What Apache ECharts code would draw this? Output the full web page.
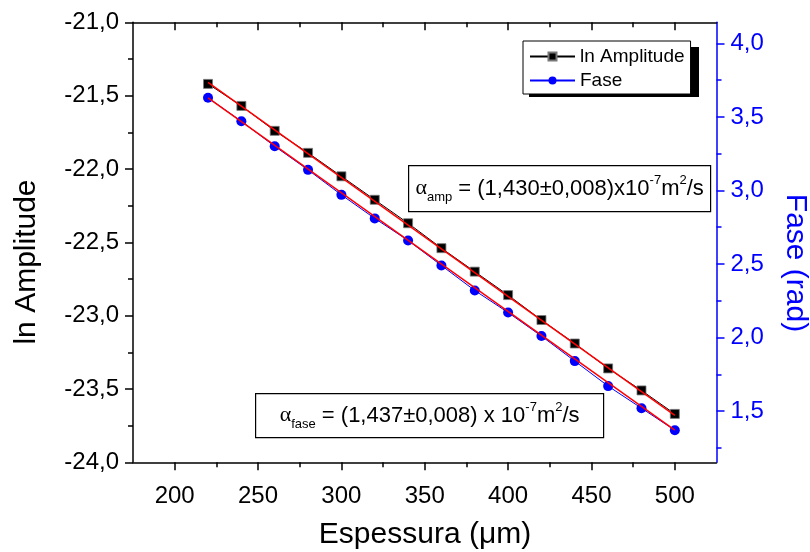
<!DOCTYPE html>
<html>
<head>
<meta charset="utf-8">
<script src="https://cdn.jsdelivr.net/npm/echarts@6/dist/echarts.min.js"></script>
<style>
html,body{margin:0;padding:0;background:#fff;}
#chart{width:810px;height:552px;}
</style>
</head>
<body>
<div id="chart"></div>
<script>
// ---- data ----
const espessura = [220, 240, 260, 280, 300, 320, 340, 360, 380, 400, 420, 440, 460, 480, 500];
const lnAmplitude = [-21.42, -21.57, -21.74, -21.89, -22.05, -22.21, -22.37, -22.54, -22.70, -22.86, -23.03, -23.19, -23.36, -23.51, -23.67];
const fase = [3.63, 3.47, 3.30, 3.14, 2.97, 2.81, 2.66, 2.49, 2.32, 2.17, 2.01, 1.84, 1.67, 1.52, 1.37];
const fitX = [220, 500];
const ampFit = [-21.41, -23.68];
const faseFit = [3.63, 1.37];
const xTickLabels = [200, 250, 300, 350, 400, 450, 500];
const xMinorTicks = [225, 275, 325, 375, 425, 475];
const rightTickLabels = [1.5, 2.0, 2.5, 3.0, 3.5, 4.0];
const rightMinorTicks = [1.25, 1.75, 2.25, 2.75, 3.25, 3.75];
const titles = {x: 'Espessura (μm)', yLeft: 'ln Amplitude', yRight: 'Fase (rad)'};

const FONT = 'Liberation Sans';
const BLUE = '#0000ff';
const comma = v => (Math.round(v * 10) / 10).toFixed(1).replace('.', ',');

const chart = echarts.init(document.getElementById('chart'), null, {renderer: 'canvas'});

const xBase = {type: 'value', min: 175, max: 525, splitLine: {show: false}, gridIndex: 0};
const TICK_FS = 24;

const richAlpha = {
  a: {fontFamily: 'Liberation Serif', fontSize: 22, lineHeight: 30, fill: '#000'},
  t: {fontFamily: FONT, fontSize: 22, lineHeight: 30, fill: '#000'},
  sub: {fontFamily: FONT, fontSize: 13, lineHeight: 14, verticalAlign: 'bottom', fill: '#000'},
  sup: {fontFamily: FONT, fontSize: 13, lineHeight: 14, verticalAlign: 'top', fill: '#000'}
};

const option = {
  animation: false,
  backgroundColor: '#fff',
  textStyle: {fontFamily: FONT},
  grid: {left: 133, right: 93.5, top: 22.3, bottom: 89.7, containLabel: false},
  xAxis: [
    Object.assign({}, xBase, {
      position: 'bottom',
      axisLine: {show: true, onZero: false, lineStyle: {color: '#000', width: 1.5}},
      axisTick: {show: true, inside: false, length: 8, customValues: xTickLabels, lineStyle: {color: '#000', width: 1.5}},
      axisLabel: {show: true, customValues: xTickLabels, margin: 22, fontFamily: FONT, fontSize: TICK_FS, color: '#000'}
    }),
    Object.assign({}, xBase, {
      position: 'bottom',
      axisLine: {show: false, onZero: false},
      axisTick: {show: true, inside: false, length: 5, customValues: xMinorTicks, lineStyle: {color: '#000', width: 1.5}},
      axisLabel: {show: false}
    }),
    Object.assign({}, xBase, {
      position: 'top',
      axisLine: {show: true, onZero: false, lineStyle: {color: '#000', width: 1.5}},
      axisTick: {show: true, inside: true, length: 8, customValues: xTickLabels, lineStyle: {color: '#000', width: 1.5}},
      axisLabel: {show: false}
    }),
    Object.assign({}, xBase, {
      position: 'top',
      axisLine: {show: false, onZero: false},
      axisTick: {show: true, inside: true, length: 5, customValues: xMinorTicks, lineStyle: {color: '#000', width: 1.5}},
      axisLabel: {show: false}
    })
  ],
  yAxis: [
    {
      type: 'value', position: 'left', min: -24, max: -21, interval: 0.5,
      splitLine: {show: false},
      axisLine: {show: true, onZero: false, lineStyle: {color: '#000', width: 1.5}},
      axisTick: {show: true, inside: false, length: 8, lineStyle: {color: '#000', width: 1.5}},
      minorTick: {show: true, splitNumber: 2, length: 5, lineStyle: {color: '#000', width: 1.5}},
      axisLabel: {margin: 14, fontFamily: FONT, fontSize: TICK_FS, color: '#000', formatter: comma}
    },
    {
      type: 'value', position: 'right', min: 1.152, max: 4.143,
      splitLine: {show: false},
      axisLine: {show: true, onZero: false, lineStyle: {color: BLUE, width: 1.5}},
      axisTick: {show: true, inside: false, length: 8, customValues: rightTickLabels, lineStyle: {color: BLUE, width: 1.5}},
      axisLabel: {customValues: rightTickLabels, margin: 14, fontFamily: FONT, fontSize: TICK_FS, color: BLUE, formatter: comma}
    },
    {
      type: 'value', position: 'right', min: 1.152, max: 4.143,
      splitLine: {show: false},
      axisLine: {show: false, onZero: false},
      axisTick: {show: true, inside: false, length: 5, customValues: rightMinorTicks, lineStyle: {color: BLUE, width: 1.5}},
      axisLabel: {show: false}
    }
  ],
  legend: {
    left: 523, top: 41, width: 170, height: 50,
    orient: 'vertical',
    padding: [6, 6, 4, 6],
    itemGap: 5,
    itemWidth: 45, itemHeight: 10,
    backgroundColor: '#fff',
    borderColor: '#000', borderWidth: 1,
    textStyle: {fontFamily: FONT, fontSize: 19, color: '#000'},
    data: ['ln Amplitude', 'Fase'],
    z: 10
  },
  graphic: [
    {type: 'rect', left: 529, top: 47, shape: {width: 170, height: 50}, style: {fill: '#000'}, z: 1, silent: true},
    {type: 'text', x: 425, y: 535, style: {text: titles.x, font: '30px "Liberation Sans"', fill: '#000', align: 'center', verticalAlign: 'middle'}},
    {type: 'text', x: 27, y: 262, rotation: Math.PI / 2, style: {text: titles.yLeft, font: '30px "Liberation Sans"', fill: '#000', align: 'center', verticalAlign: 'middle'}},
    {type: 'text', x: 795, y: 263, rotation: -Math.PI / 2, style: {text: titles.yRight, font: '30px "Liberation Sans"', fill: BLUE, align: 'center', verticalAlign: 'middle'}},
    {
      type: 'group', left: 408, top: 165, z: 20,
      children: [
        {type: 'rect', shape: {x: 0, y: 0, width: 302, height: 46}, style: {fill: '#fff', stroke: '#000', lineWidth: 1.2}},
        {type: 'text', x: 151, y: 23, style: {
          text: '{a|α}{sub|amp}{t| = (1,430±0,008)x10}{sup|-7}{t|m}{sup|2}{t|/s}',
          align: 'center', verticalAlign: 'middle', rich: richAlpha
        }}
      ]
    },
    {
      type: 'group', left: 255, top: 393, z: 20,
      children: [
        {type: 'rect', shape: {x: 0, y: 0, width: 348, height: 44}, style: {fill: '#fff', stroke: '#000', lineWidth: 1.2}},
        {type: 'text', x: 174, y: 22, style: {
          text: '{a|α}{sub|fase}{t| = (1,437±0,008) x 10}{sup|-7}{t|m}{sup|2}{t|/s}',
          align: 'center', verticalAlign: 'middle', rich: richAlpha
        }}
      ]
    }
  ],
  series: [
    {
      name: 'ln Amplitude', type: 'line', xAxisIndex: 0, yAxisIndex: 0,
      data: espessura.map((x, i) => [x, lnAmplitude[i]]),
      symbol: 'rect', symbolSize: 9,
      lineStyle: {color: '#000', width: 1},
      itemStyle: {color: '#000', borderColor: '#777', borderWidth: 0.8},
      z: 3
    },
    {
      name: 'Fase', type: 'line', xAxisIndex: 0, yAxisIndex: 1,
      data: espessura.map((x, i) => [x, fase[i]]),
      symbol: 'circle', symbolSize: 10,
      lineStyle: {color: BLUE, width: 1},
      itemStyle: {color: BLUE},
      z: 3
    },
    {
      name: 'ajuste amp', type: 'line', xAxisIndex: 0, yAxisIndex: 0,
      data: fitX.map((x, i) => [x, ampFit[i]]),
      symbol: 'none', lineStyle: {color: '#ff0000', width: 1.5}, silent: true, z: 5
    },
    {
      name: 'ajuste fase', type: 'line', xAxisIndex: 0, yAxisIndex: 1,
      data: fitX.map((x, i) => [x, faseFit[i]]),
      symbol: 'none', lineStyle: {color: '#ff0000', width: 1.5}, silent: true, z: 5
    }
  ]
};
chart.setOption(option);
</script>
</body>
</html>
